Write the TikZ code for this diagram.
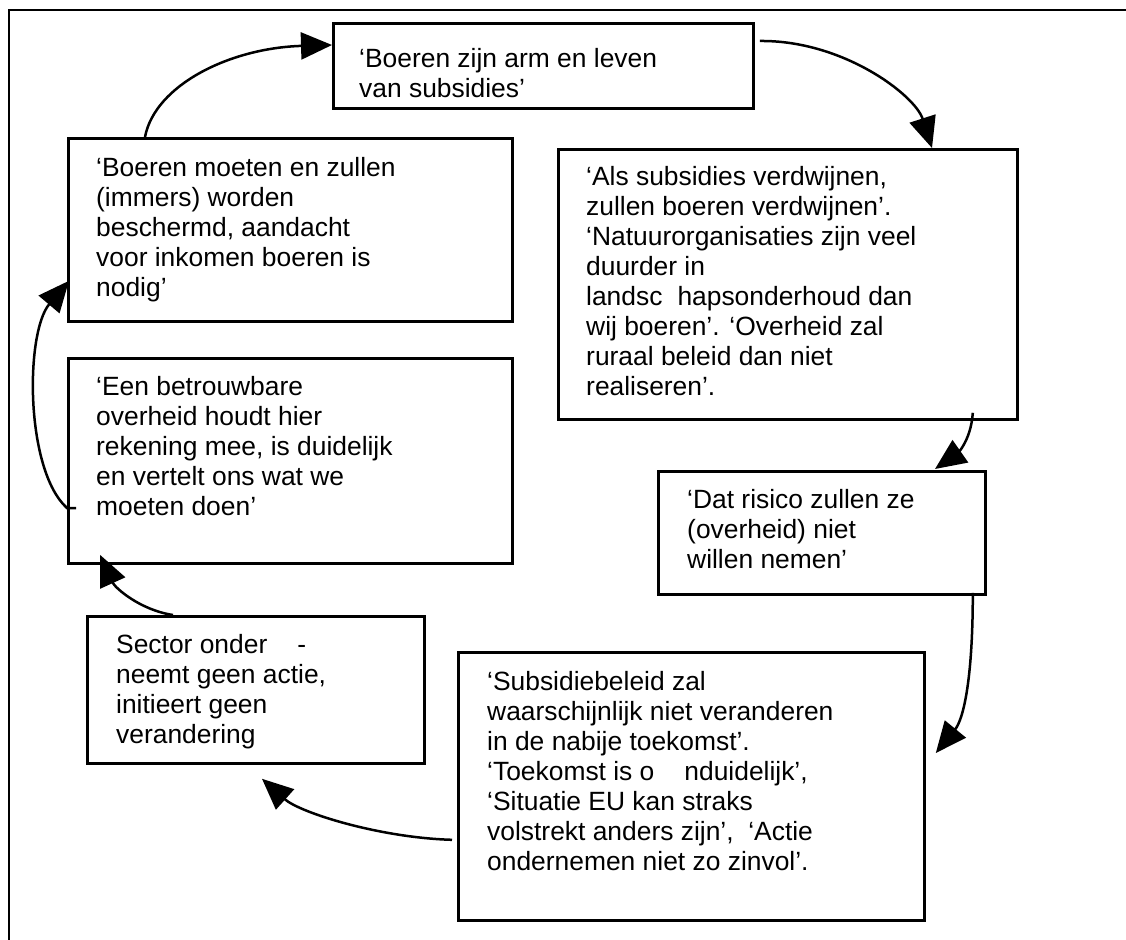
\documentclass[tikz,border=0pt]{standalone}
\usepackage{fontspec}
\setmainfont{Liberation Sans}
\usetikzlibrary{arrows.meta,calc}
\begin{document}
\begin{tikzpicture}[x=1pt,y=-1pt,
  box/.style={draw,line width=2.8pt,inner sep=0pt,anchor=north west,rectangle},
  txt/.style={anchor=north west,inner sep=0pt,align=left,
    font=\fontsize{26.4}{30}\selectfont},
  conn/.style={line width=2.5pt,-{Triangle[length=31pt,width=27pt]}}]
\useasboundingbox (0,0) rectangle (1126,939);
\newcommand\fs{\rule{0pt}{20pt}}
% outer frame
\coordinate (fbl) at (9,945);
\coordinate (ftl) at (9,10);
\coordinate (ftr) at (1135,10);
\draw[line width=2.4pt] (fbl) -- (ftl) -- (ftr);
% boxes
\node[box,minimum width=420pt,minimum height=85pt] (b1) at (332,22) {};
\node[box,minimum width=444pt,minimum height=183pt] (b2) at (67,137) {};
\node[box,minimum width=444pt,minimum height=205pt] (b3) at (67,357) {};
\node[box,minimum width=337pt,minimum height=147pt] (b4) at (86,615) {};
\node[box,minimum width=466pt,minimum height=268pt] (b5) at (457,651) {};
\node[box,minimum width=459pt,minimum height=270pt] (b6) at (557,148) {};
\node[box,minimum width=327pt,minimum height=123pt] (b7) at (657,470) {};
% texts
\node[txt] (t1) at (359,47) {\fs‘Boeren zijn arm en leven\\van subsidies’};
\node[txt] (t2) at (96,156) {\fs‘Boeren moeten en zullen\\(immers) worden\\beschermd, aandacht\\voor inkomen boeren is\\nodig’};
\node[txt] (t3) at (96,375) {\fs‘Een betrouwbare\\overheid houdt hier\\rekening mee, is duidelijk\\en vertelt ons wat we\\moeten doen’};
\node[txt] (t4) at (116,633) {\fs Sector onder\hspace{30pt}-\\neemt geen actie,\\initieert geen\\verandering};
\node[txt] (t5) at (487,670) {\fs‘Subsidiebeleid zal\\waarschijnlijk niet veranderen\\in de nabije toekomst’.\\‘Toekomst is o\hspace{30pt}nduidelijk’,\\‘Situatie EU kan straks\\volstrekt anders zijn’, \ ‘Actie\\ondernemen niet zo zinvol’.};
\node[txt] (t6) at (586,165) {\fs‘Als subsidies verdwijnen,\\zullen boeren verdwijnen’.\\‘Natuurorganisaties zijn veel\\duurder in\\landsc\hspace{15pt}hapsonderhoud dan\\wij boeren’. ‘Overheid zal\\ruraal beleid dan niet\\realiseren’.};
\node[txt] (t7) at (687,488) {\fs‘Dat risico zullen ze\\(overheid) niet\\willen nemen’};
% connectors
\draw[conn] ($(b2.north west)+(78,0)$) .. controls +(10,-52) and +(-102,3) .. ($(b1.north west)+(0,23)$);
\draw[conn] ($(b1.north east)+(5,19)$) .. controls +(83,-1) and +(-17,-53) .. ($(b6.north west)+(375,0)$);
\draw[conn] ($(b6.south east)+(-46,-8)$) .. controls +(-2,30) and +(20,-14) .. ($(b7.north west)+(278,-1)$);
\draw[conn] ($(b7.south east)+(-14,-3)$) .. controls +(0,90) and +(27,-33) .. ($(b5.north east)+(10,102)$);
\draw[conn] ($(b5.south west)+(-5,-82)$) .. controls +(-72,-2) and +(38,34) .. ($(b4.south west)+(176,14)$);
\draw[conn] ($(b4.north west)+(87,0)$) .. controls +(-33,-5) and +(15,33) .. ($(b3.south west)+(33,-10)$);
\draw[conn] ($(b3.north west)+(9,151)$) -- ($(b3.north west)+(0,151)$) .. controls +(-42,-38) and +(-44,52) .. ($(b2.south west)+(2,-42)$);
\end{tikzpicture}
\end{document}
